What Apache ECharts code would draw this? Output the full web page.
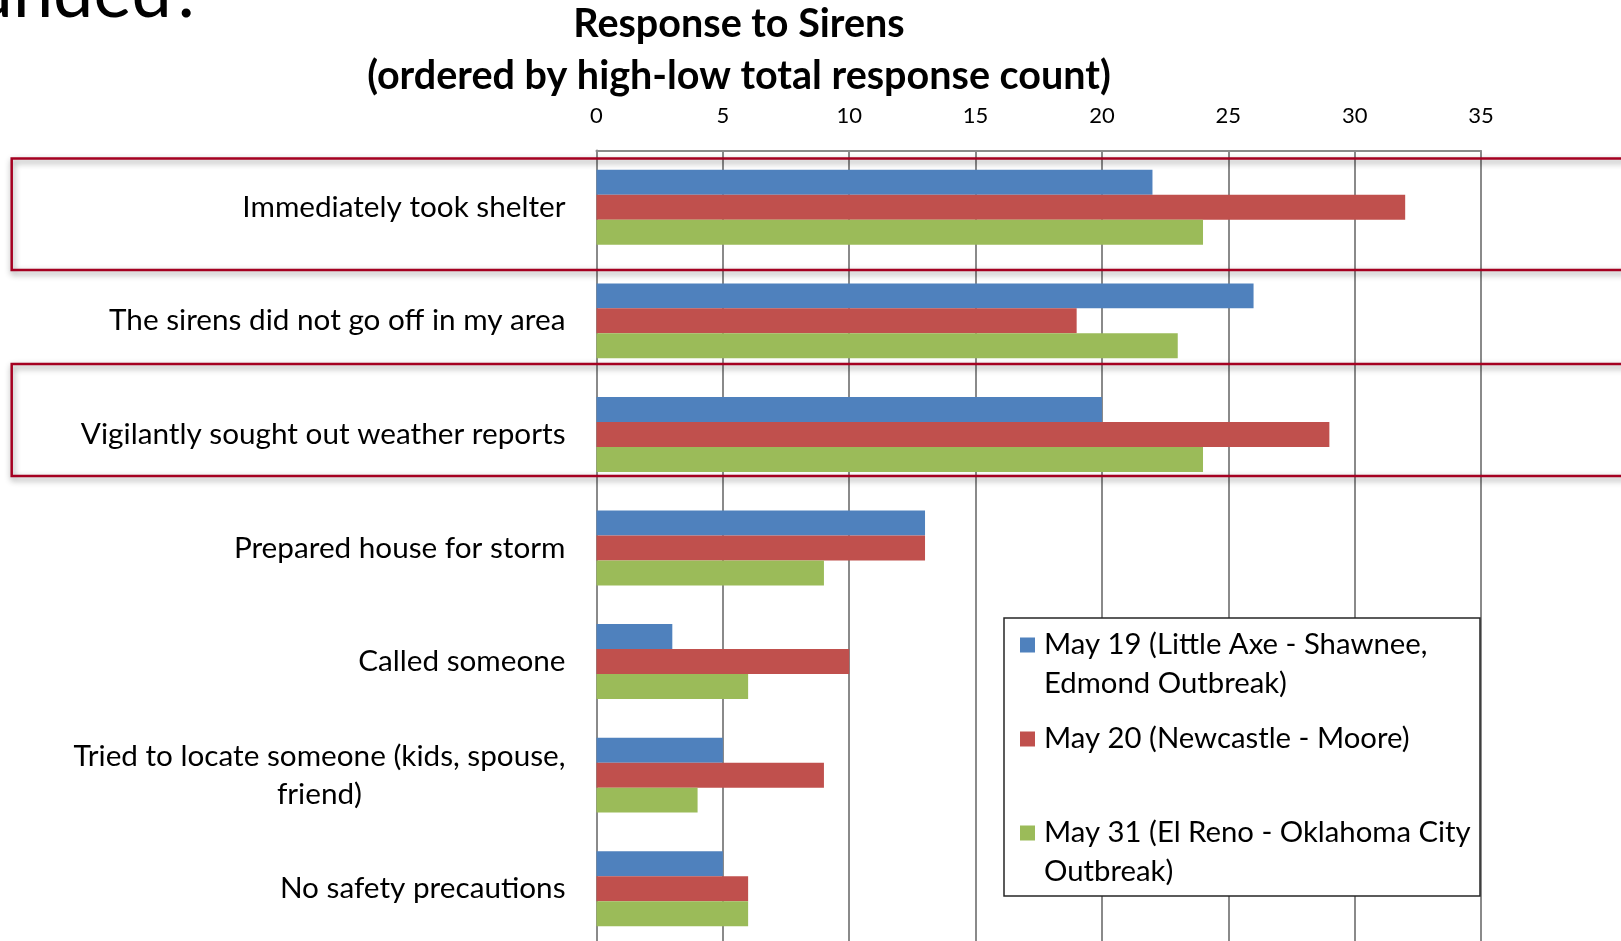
<!DOCTYPE html>
<html>
<head>
<meta charset="utf-8">
<script src="https://cdn.jsdelivr.net/npm/echarts@6/dist/echarts.min.js"></script>
<style>
    html, body { margin: 0; padding: 0; background: #fff; }
    #sirenChart { width: 1621px; height: 941px; }
</style>
</head>
<body>
<div id="sirenChart"></div>
<script>
// categories, top to bottom (ordered by total response count)
var categories = [
    'Immediately took shelter',
    'The sirens did not go off in my area',
    'Vigilantly sought out weather reports',
    'Prepared house for storm',
    'Called someone',
    'Tried to locate someone (kids, spouse,\nfriend)',
    'No safety precautions'
];
var seriesNames = [
    'May 19 (Little Axe - Shawnee, Edmond Outbreak)',
    'May 20 (Newcastle - Moore)',
    'May 31 (El Reno - Oklahoma City Outbreak)'
];
// leading blank line keeps the first text line level with the legend square
var legendLabels = [
    ' \nMay 19 (Little Axe - Shawnee,\nEdmond Outbreak)',
    'May 20 (Newcastle - Moore)',
    ' \nMay 31 (El Reno - Oklahoma City\nOutbreak)'
];
var may19 = [22, 26, 20, 13, 3, 5, 5];
var may20 = [32, 19, 29, 13, 10, 9, 6];
var may31 = [24, 23, 24, 9, 6, 4, 6];
var seriesColors = ['#4F81BD', '#C0504D', '#9BBB59'];
var countMin = 0, countMax = 35, countStep = 5;

(function() {
    var labelFont = 'Lato';
    var gridColor = '#8a8a8a';
    var lineH = 39;

    var buildSeries = function() {
        var values = [may19, may20, may31];
        var list = [];
        for (var i = 0; i < values.length; i++) {
            list.push({
                type: 'bar',
                name: seriesNames[i],
                data: values[i],
                barGap: '0%',
                barCategoryGap: '34%',
                itemStyle: { color: seriesColors[i] }
            });
        }
        return list;
    };

    // red highlight boxes + legend frame + titles
    var buildGraphic = function() {
        var boxStyle = {
            fill: 'none',
            stroke: '#A50021',
            lineWidth: 2.5,
            shadowBlur: 6,
            shadowOffsetX: 1,
            shadowOffsetY: 3,
            shadowColor: 'rgba(0,0,0,0.45)'
        };
        return [
            {
                type: 'text', z: 5,
                style: { text: 'sounded?', x: 204, y: 30, textAlign: 'right', align: 'right',
                    textVerticalAlign: 'bottom', verticalAlign: 'bottom',
                    fontFamily: labelFont, fontWeight: 400, fontSize: 72, fill: '#000' }
            },
            {
                type: 'text', z: 5,
                style: { text: 'Response to Sirens', x: 739, y: 24, textAlign: 'center', align: 'center',
                    textVerticalAlign: 'middle', verticalAlign: 'middle',
                    fontFamily: labelFont, fontWeight: 'bold', fontSize: 39.5, fill: '#000' }
            },
            {
                type: 'text', z: 5,
                style: { text: '(ordered by high-low total response count)', x: 739, y: 76,
                    textAlign: 'center', align: 'center',
                    textVerticalAlign: 'middle', verticalAlign: 'middle',
                    fontFamily: labelFont, fontWeight: 'bold', fontSize: 39.5, fill: '#000' }
            },
            { type: 'rect', z: 1, shape: { x: 11.7, y: 158.5, width: 1700, height: 111.5 }, style: boxStyle },
            { type: 'rect', z: 1, shape: { x: 11.7, y: 364, width: 1700, height: 112 }, style: boxStyle },
            {
                type: 'rect', z: 3,
                shape: { x: 1004, y: 618, width: 476, height: 278 },
                style: { fill: '#fff', stroke: '#262626', lineWidth: 1.5 }
            }
        ];
    };

    var render = function() {
        var chart = echarts.init(document.getElementById('sirenChart'));
        var option = {
            animation: false,
            backgroundColor: '#fff',
            textStyle: { fontFamily: labelFont },
            grid: {
                left: 596.5, top: 150.5, width: 884.5, height: 795,
                containLabel: false,
                outerBoundsMode: 'none'
            },
            legend: {
                orient: 'vertical',
                left: 1020,
                top: 586.5,
                padding: 0,
                itemGap: 16,
                itemWidth: 15,
                itemHeight: 15,
                icon: 'rect',
                z: 4,
                formatter: function(name) {
                    return legendLabels[seriesNames.indexOf(name)];
                },
                textStyle: {
                    fontFamily: labelFont, fontSize: 29.3, color: '#000',
                    lineHeight: lineH, padding: [0, 0, 0, 4]
                },
                data: seriesNames
            },
            xAxis: {
                type: 'value',
                position: 'top',
                min: countMin,
                max: countMax,
                interval: countStep,
                axisLine: { show: true, lineStyle: { color: gridColor, width: 2 } },
                axisTick: { show: false },
                splitLine: { show: true, lineStyle: { color: gridColor, width: 2 } },
                axisLabel: { color: '#000', fontFamily: labelFont, fontSize: 22, margin: 24 }
            },
            yAxis: {
                type: 'category',
                inverse: true,
                data: categories,
                axisLine: { show: true, lineStyle: { color: gridColor, width: 2 } },
                axisTick: { show: false },
                splitLine: { show: false },
                axisLabel: {
                    margin: 31,
                    color: '#000',
                    fontFamily: labelFont,
                    fontSize: 29.7,
                    lineHeight: 38,
                    formatter: function(v) {
                        return v.split('\n').map(function(s) { return '{c|' + s + '}'; }).join('\n');
                    },
                    rich: {
                        c: { align: 'center', fontFamily: labelFont, fontSize: 29.7, lineHeight: 38, color: '#000' }
                    }
                }
            },
            graphic: buildGraphic(),
            series: buildSeries()
        };
        chart.setOption(option);
    };

    render();
})();
</script>
</body>
</html>
